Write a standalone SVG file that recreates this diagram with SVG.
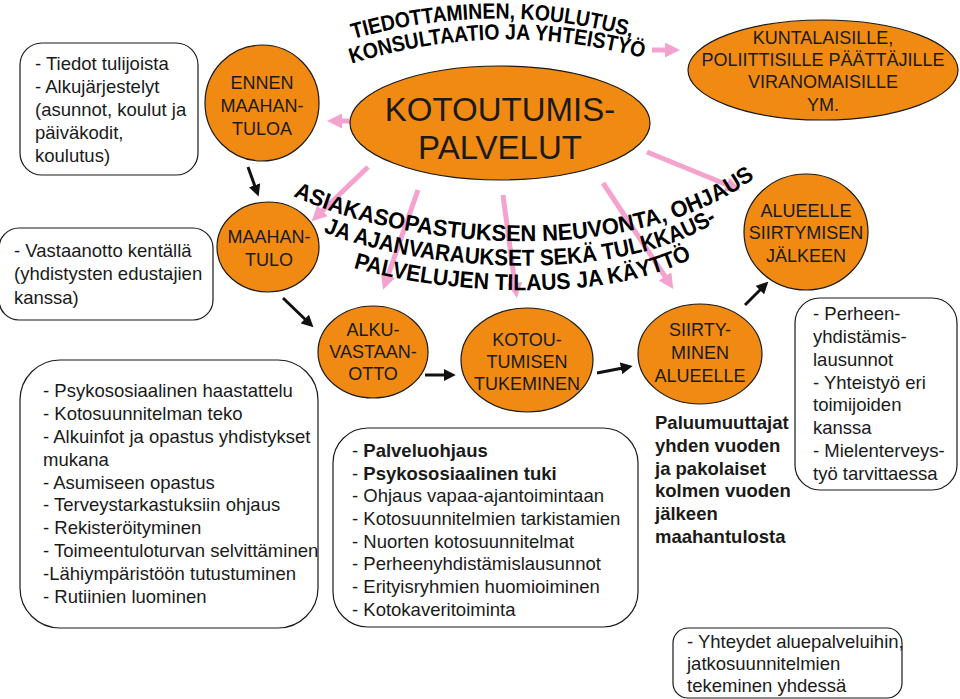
<svg xmlns="http://www.w3.org/2000/svg" width="960" height="699" viewBox="0 0 960 699">
<style>
.node{fill:#F08A12;stroke:#1a1a1a;stroke-width:1.2}
.nt{font-family:"Liberation Sans",Arial,sans-serif;font-size:18px;fill:#1a1a1a;text-anchor:middle}
.box{fill:#fff;stroke:#1a1a1a;stroke-width:1.2}
.bt{font-family:"Liberation Sans",Arial,sans-serif;font-size:18.5px;fill:#1a1a1a}
.bold{font-weight:bold}
.pink{stroke:#F4A3CE;stroke-width:5;fill:none;marker-end:url(#pa)}
.blk{stroke:#111;stroke-width:3;fill:none;marker-end:url(#ba)}
.arc{font-family:"Liberation Sans",Arial,sans-serif;font-weight:bold;fill:#000;text-anchor:middle}
</style>
<defs>
<marker id="pa" viewBox="0 0 10 10" refX="6" refY="5" markerWidth="3.4" markerHeight="3" orient="auto" markerUnits="strokeWidth"><path d="M0,0 L10,5 L0,10 z" fill="#F4A3CE"/></marker>
<marker id="ba" viewBox="0 0 10 10" refX="6" refY="5" markerWidth="4" markerHeight="4" orient="auto" markerUnits="strokeWidth"><path d="M0,0 L10,5 L0,10 z" fill="#111"/></marker>
<path id="t1" d="M343,42 Q495,-4 642,40"/>
<path id="t2" d="M345,66 Q497,16 650,60"/>
<path id="m1" d="M285,192 C400,250 640,272 762,172"/>
<path id="m2" d="M318,230 C420,272 620,287 722,218"/>
<path id="m3" d="M348,266 C430,292 600,308 697,256"/>
</defs>
<rect width="960" height="699" fill="#fff"/>

<g id="connectors">
<line class="pink" x1="352" y1="121" x2="333" y2="121"/>
<line class="pink" x1="652" y1="50" x2="674" y2="50"/>
<line class="pink" x1="368" y1="167" x2="316" y2="217"/>
<line class="pink" x1="418" y1="190" x2="385" y2="284"/>
<line class="pink" x1="503" y1="195" x2="516" y2="292"/>
<line class="pink" x1="603" y1="183" x2="670" y2="284"/>
<line class="pink" x1="647" y1="152" x2="735" y2="188"/>
<line class="blk" x1="248" y1="167" x2="257" y2="192"/>
<line class="blk" x1="283" y1="298" x2="310" y2="324"/>
<line class="blk" x1="425" y1="375" x2="451" y2="375"/>
<line class="blk" x1="597" y1="373" x2="628" y2="367"/>
<line class="blk" x1="745" y1="305" x2="765" y2="285"/>
</g>

<g id="kotoutumispalvelut">
<ellipse class="node" cx="500" cy="123" rx="150" ry="57"/>
<text class="nt" x="500" y="121" style="font-size:33px">KOTOUTUMIS-</text>
<text class="nt" x="500" y="159" style="font-size:33px">PALVELUT</text>
</g>
<g id="kuntalaisille">
<ellipse class="node" cx="823" cy="70" rx="135" ry="50"/>
<text class="nt" x="823" y="44">KUNTALAISILLE,</text>
<text class="nt" x="823" y="66">POLIITTISILLE PÄÄTTÄJILLE</text>
<text class="nt" x="823" y="88">VIRANOMAISILLE</text>
<text class="nt" x="823" y="111">YM.</text>
</g>
<g id="ennen">
<ellipse class="node" cx="262" cy="103" rx="57" ry="58"/>
<text class="nt" x="262" y="89">ENNEN</text>
<text class="nt" x="262" y="112">MAAHAN-</text>
<text class="nt" x="262" y="135">TULOA</text>
</g>
<g id="maahantulo">
<ellipse class="node" cx="268" cy="247" rx="51" ry="45"/>
<text class="nt" x="269" y="243">MAAHAN-</text>
<text class="nt" x="269" y="266">TULO</text>
</g>
<g id="alkuvastaanotto">
<ellipse class="node" cx="373" cy="352" rx="55" ry="46"/>
<text class="nt" x="373" y="336">ALKU-</text>
<text class="nt" x="373" y="358">VASTAAN-</text>
<text class="nt" x="373" y="380">OTTO</text>
</g>
<g id="kotoutumisentukeminen">
<ellipse class="node" cx="527" cy="360" rx="66" ry="52"/>
<text class="nt" x="527" y="346">KOTOU-</text>
<text class="nt" x="527" y="368">TUMISEN</text>
<text class="nt" x="527" y="390">TUKEMINEN</text>
</g>
<g id="siirtyminen">
<ellipse class="node" cx="700" cy="354" rx="62" ry="50"/>
<text class="nt" x="700" y="336">SIIRTY-</text>
<text class="nt" x="700" y="359">MINEN</text>
<text class="nt" x="700" y="382">ALUEELLE</text>
</g>
<g id="alueellejalkeen">
<ellipse class="node" cx="806" cy="232" rx="62" ry="58"/>
<text class="nt" x="806" y="217">ALUEELLE</text>
<text class="nt" x="806" y="239">SIIRTYMISEN</text>
<text class="nt" x="806" y="262">JÄLKEEN</text>
</g>

<g id="box-ennen">
<rect class="box" x="20" y="43" width="178" height="132" rx="22"/>
<text class="bt" x="35" y="70">- Tiedot tulijoista</text>
<text class="bt" x="35" y="93">- Alkujärjestelyt</text>
<text class="bt" x="35" y="116">(asunnot, koulut ja</text>
<text class="bt" x="35" y="139">päiväkodit,</text>
<text class="bt" x="35" y="162">koulutus)</text>
</g>
<g id="box-maahantulo">
<rect class="box" x="-1" y="228" width="214" height="92" rx="20"/>
<text class="bt" x="14" y="257">- Vastaanotto kentällä</text>
<text class="bt" x="14" y="280">(yhdistysten edustajien</text>
<text class="bt" x="14" y="304">kanssa)</text>
</g>
<g id="box-alku">
<rect class="box" x="20" y="360" width="298" height="268" rx="40"/>
<text class="bt" x="43" y="397">- Psykososiaalinen haastattelu</text>
<text class="bt" x="43" y="420">- Kotosuunnitelman teko</text>
<text class="bt" x="43" y="443">- Alkuinfot ja opastus yhdistykset</text>
<text class="bt" x="43" y="466">mukana</text>
<text class="bt" x="43" y="489">- Asumiseen opastus</text>
<text class="bt" x="43" y="511">- Terveystarkastuksiin ohjaus</text>
<text class="bt" x="43" y="534">- Rekisteröityminen</text>
<text class="bt" x="43" y="557">- Toimeentuloturvan selvittäminen</text>
<text class="bt" x="43" y="580">-Lähiympäristöön tutustuminen</text>
<text class="bt" x="43" y="603">- Rutiinien luominen</text>
</g>
<g id="box-tukeminen">
<rect class="box" x="333" y="428" width="305" height="199" rx="35"/>
<text class="bt" x="352" y="457">- <tspan class="bold">Palveluohjaus</tspan></text>
<text class="bt" x="352" y="480">- <tspan class="bold">Psykososiaalinen tuki</tspan></text>
<text class="bt" x="352" y="502">- Ohjaus vapaa-ajantoimintaan</text>
<text class="bt" x="352" y="525">- Kotosuunnitelmien tarkistamien</text>
<text class="bt" x="352" y="548">- Nuorten kotosuunnitelmat</text>
<text class="bt" x="352" y="570">- Perheenyhdistämislausunnot</text>
<text class="bt" x="352" y="593">- Erityisryhmien huomioiminen</text>
<text class="bt" x="352" y="616">- Kotokaveritoiminta</text>
</g>
<g id="text-paluumuuttajat">
<text class="bt bold" x="655" y="429">Paluumuuttajat</text>
<text class="bt bold" x="655" y="452">yhden vuoden</text>
<text class="bt bold" x="655" y="475">ja pakolaiset</text>
<text class="bt bold" x="655" y="497">kolmen vuoden</text>
<text class="bt bold" x="655" y="520">jälkeen</text>
<text class="bt bold" x="655" y="543">maahantulosta</text>
</g>
<g id="box-jalkeen">
<rect class="box" x="795" y="298" width="162" height="192" rx="25"/>
<text class="bt" x="813" y="320">- Perheen-</text>
<text class="bt" x="813" y="343">yhdistämis-</text>
<text class="bt" x="813" y="366">lausunnot</text>
<text class="bt" x="813" y="389">- Yhteistyö eri</text>
<text class="bt" x="813" y="411">toimijoiden</text>
<text class="bt" x="813" y="434">kanssa</text>
<text class="bt" x="813" y="457">- Mielenterveys-</text>
<text class="bt" x="813" y="480">työ tarvittaessa</text>
</g>
<g id="box-yhteydet">
<rect class="box" x="673" y="628" width="229" height="70" rx="15"/>
<text class="bt" x="687" y="648">- Yhteydet aluepalveluihin,</text>
<text class="bt" x="687" y="670">jatkosuunnitelmien</text>
<text class="bt" x="687" y="692">tekeminen yhdessä</text>
</g>

<g id="arc-tiedottaminen">
<text class="arc" style="font-size:22px"><textPath href="#t1" startOffset="50%" textLength="282" lengthAdjust="spacingAndGlyphs">TIEDOTTAMINEN, KOULUTUS,</textPath></text>
<text class="arc" style="font-size:22px"><textPath href="#t2" startOffset="50%" textLength="296" lengthAdjust="spacingAndGlyphs">KONSULTAATIO JA YHTEISTYÖ</textPath></text>
</g>
<g id="arc-asiakas">
<text class="arc" style="font-size:23px"><textPath href="#m1" startOffset="50%" textLength="480" lengthAdjust="spacingAndGlyphs">ASIAKASOPASTUKSEN NEUVONTA, OHJAUS</textPath></text>
<text class="arc" style="font-size:23px"><textPath href="#m2" startOffset="50%" textLength="405" lengthAdjust="spacingAndGlyphs">JA AJANVARAUKSET SEKÄ TULKKAUS-</textPath></text>
<text class="arc" style="font-size:23px"><textPath href="#m3" startOffset="50%" textLength="345" lengthAdjust="spacingAndGlyphs">PALVELUJEN TILAUS JA KÄYTTÖ</textPath></text>
</g>
</svg>
